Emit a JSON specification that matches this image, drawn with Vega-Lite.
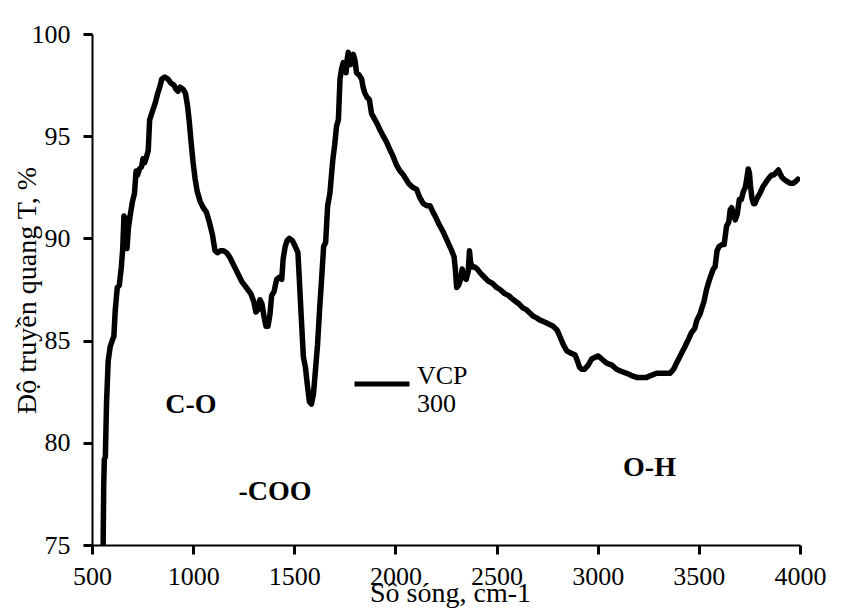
{
  "$schema": "https://vega.github.io/schema/vega-lite/v6.json",
  "width": 708,
  "height": 511,
  "autosize": {"type": "none"},
  "padding": {"left": 92, "top": 34, "right": 41, "bottom": 70},
  "background": "white",
  "config": {
    "view": {"stroke": null},
    "font": "Liberation Serif",
    "axis": {
      "grid": false,
      "domainColor": "black",
      "domainWidth": 2,
      "labelFont": "Liberation Serif",
      "labelFontSize": 26,
      "labelColor": "black",
      "titleFont": "Liberation Serif",
      "titleFontSize": 28,
      "titleFontWeight": "normal",
      "titleColor": "black"
    }
  },
  "datasets": {
    "spectrum": [
      {"x":555,"T":75.0},{"x":558,"T":78.0},{"x":561,"T":79.2},{"x":566,"T":79.3},{"x":572,"T":82.0},{"x":580,"T":84.0},{"x":590,"T":84.7},{"x":600,"T":85.0},{"x":608,"T":85.2},{"x":615,"T":86.5},{"x":625,"T":87.6},{"x":635,"T":87.7},{"x":645,"T":88.6},{"x":652,"T":89.5},{"x":658,"T":91.1},{"x":663,"T":90.4},{"x":668,"T":91.0},{"x":673,"T":89.5},{"x":680,"T":90.5},{"x":690,"T":91.2},{"x":700,"T":91.8},{"x":710,"T":92.2},{"x":718,"T":93.3},{"x":725,"T":93.1},{"x":735,"T":93.4},{"x":745,"T":93.5},{"x":752,"T":93.9},{"x":760,"T":93.7},{"x":770,"T":94.0},{"x":778,"T":94.3},{"x":785,"T":95.8},{"x":795,"T":96.1},{"x":805,"T":96.4},{"x":815,"T":96.7},{"x":825,"T":97.1},{"x":835,"T":97.4},{"x":845,"T":97.8},{"x":860,"T":97.9},{"x":875,"T":97.8},{"x":890,"T":97.6},{"x":905,"T":97.5},{"x":915,"T":97.3},{"x":925,"T":97.2},{"x":935,"T":97.4},{"x":950,"T":97.3},{"x":962,"T":97.1},{"x":972,"T":96.5},{"x":980,"T":95.8},{"x":990,"T":94.7},{"x":1000,"T":93.7},{"x":1010,"T":92.9},{"x":1020,"T":92.3},{"x":1035,"T":91.8},{"x":1050,"T":91.5},{"x":1065,"T":91.3},{"x":1080,"T":90.8},{"x":1095,"T":90.2},{"x":1108,"T":89.4},{"x":1120,"T":89.3},{"x":1135,"T":89.4},{"x":1150,"T":89.4},{"x":1165,"T":89.3},{"x":1180,"T":89.1},{"x":1195,"T":88.8},{"x":1210,"T":88.5},{"x":1225,"T":88.2},{"x":1240,"T":87.9},{"x":1255,"T":87.7},{"x":1270,"T":87.5},{"x":1285,"T":87.3},{"x":1300,"T":86.9},{"x":1310,"T":86.4},{"x":1320,"T":86.5},{"x":1330,"T":87.0},{"x":1340,"T":86.8},{"x":1350,"T":86.2},{"x":1360,"T":85.7},{"x":1370,"T":85.7},{"x":1380,"T":86.3},{"x":1388,"T":87.2},{"x":1400,"T":87.4},{"x":1413,"T":88.0},{"x":1425,"T":88.1},{"x":1438,"T":88.0},{"x":1445,"T":89.0},{"x":1455,"T":89.6},{"x":1465,"T":89.9},{"x":1475,"T":90.0},{"x":1490,"T":89.9},{"x":1505,"T":89.6},{"x":1518,"T":89.3},{"x":1525,"T":88.0},{"x":1530,"T":87.0},{"x":1538,"T":85.5},{"x":1545,"T":84.2},{"x":1555,"T":83.7},{"x":1565,"T":82.8},{"x":1575,"T":82.0},{"x":1585,"T":81.9},{"x":1595,"T":82.4},{"x":1605,"T":83.6},{"x":1615,"T":84.8},{"x":1625,"T":86.5},{"x":1635,"T":88.0},{"x":1645,"T":89.6},{"x":1655,"T":89.8},{"x":1665,"T":91.6},{"x":1676,"T":92.2},{"x":1690,"T":93.8},{"x":1700,"T":94.6},{"x":1709,"T":95.5},{"x":1718,"T":95.8},{"x":1726,"T":97.8},{"x":1734,"T":98.3},{"x":1742,"T":98.6},{"x":1750,"T":98.4},{"x":1756,"T":98.1},{"x":1762,"T":98.8},{"x":1767,"T":99.1},{"x":1773,"T":98.6},{"x":1778,"T":98.5},{"x":1785,"T":98.9},{"x":1792,"T":99.0},{"x":1800,"T":98.7},{"x":1808,"T":98.1},{"x":1820,"T":98.0},{"x":1833,"T":97.8},{"x":1840,"T":97.4},{"x":1849,"T":97.1},{"x":1860,"T":96.9},{"x":1871,"T":96.8},{"x":1882,"T":96.1},{"x":1899,"T":95.8},{"x":1910,"T":95.6},{"x":1924,"T":95.3},{"x":1940,"T":95.0},{"x":1957,"T":94.7},{"x":1970,"T":94.4},{"x":1989,"T":94.0},{"x":2005,"T":93.6},{"x":2022,"T":93.3},{"x":2040,"T":93.1},{"x":2064,"T":92.7},{"x":2085,"T":92.5},{"x":2105,"T":92.4},{"x":2120,"T":92.0},{"x":2138,"T":91.7},{"x":2155,"T":91.6},{"x":2171,"T":91.6},{"x":2185,"T":91.3},{"x":2196,"T":91.1},{"x":2215,"T":90.7},{"x":2237,"T":90.3},{"x":2255,"T":89.9},{"x":2278,"T":89.4},{"x":2290,"T":89.1},{"x":2296,"T":88.5},{"x":2303,"T":87.6},{"x":2312,"T":87.7},{"x":2322,"T":88.0},{"x":2330,"T":88.5},{"x":2340,"T":88.1},{"x":2350,"T":88.0},{"x":2360,"T":88.4},{"x":2366,"T":89.4},{"x":2372,"T":88.8},{"x":2381,"T":88.6},{"x":2392,"T":88.6},{"x":2405,"T":88.5},{"x":2420,"T":88.3},{"x":2440,"T":88.1},{"x":2460,"T":87.9},{"x":2480,"T":87.8},{"x":2500,"T":87.6},{"x":2517,"T":87.5},{"x":2540,"T":87.3},{"x":2560,"T":87.2},{"x":2583,"T":87.0},{"x":2610,"T":86.8},{"x":2630,"T":86.6},{"x":2649,"T":86.5},{"x":2680,"T":86.2},{"x":2700,"T":86.1},{"x":2715,"T":86.0},{"x":2740,"T":85.9},{"x":2760,"T":85.8},{"x":2780,"T":85.7},{"x":2800,"T":85.5},{"x":2813,"T":85.2},{"x":2830,"T":84.8},{"x":2847,"T":84.5},{"x":2865,"T":84.4},{"x":2888,"T":84.3},{"x":2900,"T":84.0},{"x":2910,"T":83.7},{"x":2921,"T":83.6},{"x":2935,"T":83.6},{"x":2953,"T":83.8},{"x":2970,"T":84.1},{"x":2990,"T":84.2},{"x":3003,"T":84.25},{"x":3020,"T":84.1},{"x":3044,"T":83.9},{"x":3070,"T":83.8},{"x":3093,"T":83.6},{"x":3115,"T":83.5},{"x":3143,"T":83.4},{"x":3165,"T":83.3},{"x":3192,"T":83.2},{"x":3220,"T":83.2},{"x":3242,"T":83.2},{"x":3265,"T":83.3},{"x":3291,"T":83.4},{"x":3320,"T":83.4},{"x":3340,"T":83.4},{"x":3357,"T":83.4},{"x":3375,"T":83.6},{"x":3390,"T":83.9},{"x":3410,"T":84.3},{"x":3431,"T":84.7},{"x":3450,"T":85.1},{"x":3464,"T":85.4},{"x":3480,"T":85.6},{"x":3490,"T":86.0},{"x":3506,"T":86.3},{"x":3515,"T":86.6},{"x":3525,"T":86.9},{"x":3538,"T":87.5},{"x":3550,"T":87.9},{"x":3560,"T":88.2},{"x":3571,"T":88.5},{"x":3580,"T":88.6},{"x":3590,"T":89.4},{"x":3600,"T":89.6},{"x":3615,"T":89.7},{"x":3625,"T":89.7},{"x":3637,"T":90.6},{"x":3648,"T":90.8},{"x":3655,"T":91.4},{"x":3662,"T":91.5},{"x":3670,"T":91.2},{"x":3680,"T":90.9},{"x":3690,"T":91.2},{"x":3700,"T":91.9},{"x":3710,"T":91.9},{"x":3720,"T":92.3},{"x":3730,"T":92.5},{"x":3738,"T":93.0},{"x":3744,"T":93.4},{"x":3750,"T":93.2},{"x":3755,"T":92.6},{"x":3762,"T":92.0},{"x":3770,"T":91.7},{"x":3777,"T":91.7},{"x":3790,"T":92.0},{"x":3802,"T":92.2},{"x":3815,"T":92.5},{"x":3835,"T":92.8},{"x":3850,"T":93.0},{"x":3860,"T":93.1},{"x":3870,"T":93.1},{"x":3880,"T":93.2},{"x":3893,"T":93.35},{"x":3900,"T":93.2},{"x":3910,"T":93.0},{"x":3920,"T":92.9},{"x":3934,"T":92.8},{"x":3950,"T":92.7},{"x":3966,"T":92.7},{"x":3980,"T":92.8},{"x":3990,"T":92.9}
    ],
    "labels": [
      {"x": 989, "y": 81.46, "text": "C-O"},
      {"x": 1405, "y": 77.2, "text": "-COO"},
      {"x": 3256, "y": 78.38, "text": "O-H"}
    ]
  },
  "layer": [
    {
      "data": {"name": "spectrum"},
      "transform": [{"calculate": "'VCP 300'", "as": "series"}],
      "mark": {"type": "line", "strokeWidth": 5.5, "strokeJoin": "round", "strokeCap": "round", "clip": true},
      "encoding": {
        "x": {
          "field": "x", "type": "quantitative",
          "scale": {"domain": [500, 4000], "nice": false, "zero": false},
          "axis": {"values": [500, 1000, 1500, 2000, 2500, 3000, 3500, 4000], "format": "d", "ticks": true, "tickSize": 9, "tickWidth": 3, "tickColor": "#000", "title": "Sô sóng, cm-1", "labelPadding": 9, "labelFlush": false, "titleX": 358, "titleY": 56, "titleBaseline": "alphabetic", "titleAnchor": "middle"}
        },
        "y": {
          "field": "T", "type": "quantitative",
          "scale": {"domain": [75, 100], "nice": false, "zero": false},
          "axis": {"values": [75, 80, 85, 90, 95, 100], "format": "d", "ticks": true, "tickSize": 9, "tickWidth": 3, "tickColor": "#000", "title": "Độ truyền quang T, %", "labelPadding": 13, "labelFlush": false, "titleX": -57, "titleY": 256, "titleAngle": -90, "titleAlign": "center", "titleBaseline": "alphabetic"}
        },
        "color": {
          "field": "series", "type": "nominal",
          "scale": {"range": ["black"]},
          "legend": {
            "orient": "none", "legendX": 260, "legendY": 320,
            "title": null, "padding": 0,
            "symbolType": "stroke", "symbolSize": 3025, "symbolStrokeWidth": 5, "symbolStrokeColor": "black",
            "labelExpr": "['VCP', '300']", "labelFont": "Liberation Serif", "labelFontSize": 26, "labelColor": "black",
            "labelOffset": 5, "labelLimit": 0, "labelBaseline": "alphabetic", "labelLineHeight": 29
          }
        }
      }
    },
    {
      "data": {"name": "labels"},
      "mark": {"type": "text", "font": "Liberation Serif", "fontSize": 28, "fontWeight": "bold", "align": "center", "baseline": "alphabetic", "color": "black"},
      "encoding": {
        "x": {"field": "x", "type": "quantitative"},
        "y": {"field": "y", "type": "quantitative"},
        "text": {"field": "text"}
      }
    }
  ]
}
